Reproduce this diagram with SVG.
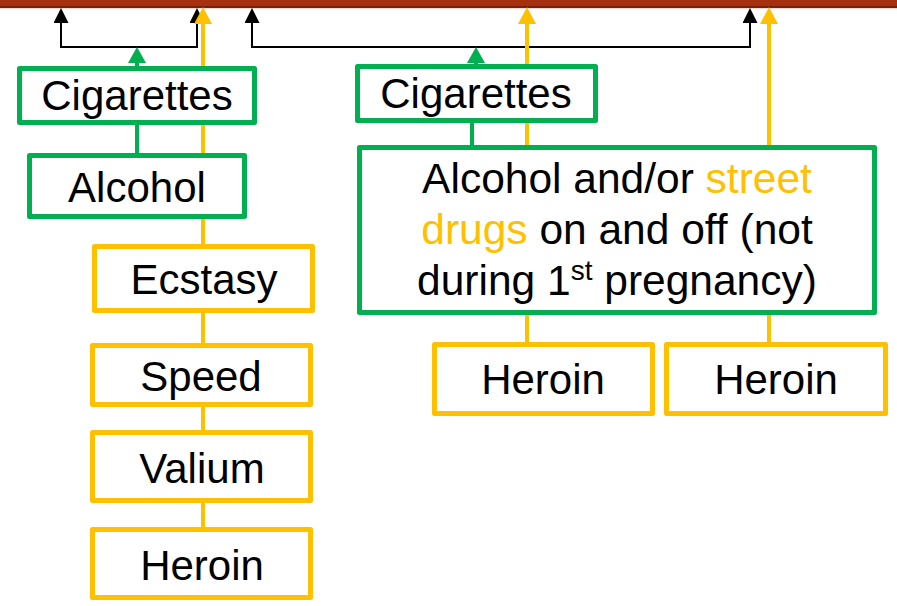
<svg xmlns="http://www.w3.org/2000/svg" width="897" height="606" viewBox="0 0 897 606">
<style>
.box{fill:#fff;stroke-width:5;stroke-linejoin:round}
.g{stroke:#00B050}
.y{stroke:#FFC000}
text{font-family:"Liberation Sans",Arial,sans-serif;font-size:42px;fill:#000;text-anchor:middle}
.big text{font-size:42.5px}
.hl{fill:#FFC000}
.cb{fill:none;stroke:#000;stroke-width:2}
.cy{fill:none;stroke:#FFC000;stroke-width:4}
.cg{fill:none;stroke:#00B050;stroke-width:4}
</style>
<defs>
<marker id="ab" markerUnits="userSpaceOnUse" markerWidth="15" markerHeight="15" refX="3" refY="7.5" orient="auto-start-reverse" viewBox="0 0 15 15"><path d="M0,0 L15,7.5 L0,15 Z" fill="#000"/></marker>
<marker id="ay" markerUnits="userSpaceOnUse" markerWidth="17" markerHeight="18" refX="3" refY="9" orient="auto" viewBox="0 0 17 18"><path d="M0,0 L17,9 L0,18 Z" fill="#FFC000"/></marker>
<marker id="ag" markerUnits="userSpaceOnUse" markerWidth="16" markerHeight="18" refX="3" refY="9" orient="auto" viewBox="0 0 16 18"><path d="M0,0 L16,9 L0,18 Z" fill="#00B050"/></marker>
</defs>
<rect x="0" y="0" width="897" height="6" fill="#A5300F"/>
<rect x="0" y="6" width="897" height="2" fill="#7A200C"/>
<rect x="0" y="8" width="897" height="1" fill="#F2D6CF"/>
<g id="connectors">
<path class="cb" d="M61,20 L61,47 L197,47 L197,20" marker-start="url(#ab)" marker-end="url(#ab)"/>
<path class="cb" d="M252,20 L252,47 L750,47 L750,20" marker-start="url(#ab)" marker-end="url(#ab)"/>
<path class="cy" d="M203,527 L203,21" marker-end="url(#ay)"/>
<path class="cy" d="M527,342 L527,21" marker-end="url(#ay)"/>
<path class="cy" d="M769,342 L769,21" marker-end="url(#ay)"/>
<path class="cg" d="M137,153 L137,60" marker-end="url(#ag)"/>
<path class="cg" d="M472,147 L472,95 L476,95 L476,60" marker-end="url(#ag)"/>
</g>
<g id="cig1"><rect class="box g" x="19.5" y="68.5" width="235" height="54"/><text x="137" y="110">Cigarettes</text></g>
<g id="alc1"><rect class="box g" x="29.5" y="155.5" width="215" height="61"/><text x="137" y="202">Alcohol</text></g>
<g id="ecstasy"><rect class="box y" x="94.5" y="246.5" width="218" height="64"/><text x="204" y="294">Ecstasy</text></g>
<g id="speed"><rect class="box y" x="92.5" y="345.5" width="218" height="59"/><text x="201" y="391">Speed</text></g>
<g id="valium"><rect class="box y" x="92.5" y="432.5" width="218" height="68"/><text x="202" y="483">Valium</text></g>
<g id="heroin1"><rect class="box y" x="92.5" y="529.5" width="218" height="68"/><text x="202" y="580">Heroin</text></g>
<g id="cig2"><rect class="box g" x="357.5" y="66.5" width="238" height="54"/><text x="476" y="108">Cigarettes</text></g>
<g id="alc2" class="big"><rect class="box g" x="359.5" y="147.5" width="515" height="165"/>
<text x="617" y="193">Alcohol and/or <tspan class="hl">street</tspan></text>
<text x="617" y="244"><tspan class="hl">drugs</tspan> on and off (not</text>
<text x="617" y="295">during 1<tspan font-size="28" dy="-15">st</tspan><tspan dy="15"> pregnancy)</tspan></text>
</g>
<g id="heroin2"><rect class="box y" x="434.5" y="344.5" width="218" height="69"/><text x="543" y="394">Heroin</text></g>
<g id="heroin3"><rect class="box y" x="666.5" y="344.5" width="219" height="69"/><text x="776" y="394">Heroin</text></g>
</svg>
